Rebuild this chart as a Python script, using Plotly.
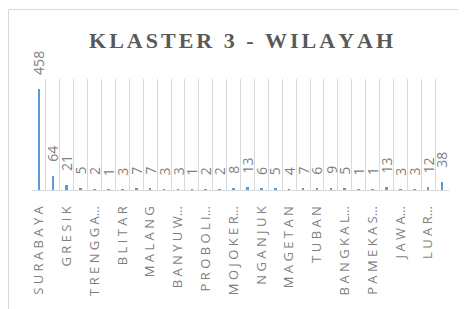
import plotly.graph_objects as go

title_text = "KLASTER 3 - WILAYAH"
values = [458, 64, 21, 5, 2, 1, 3, 7, 7, 3, 3, 1, 2, 2, 8,
          13, 6, 5, 4, 7, 6, 9, 5, 1, 1, 13, 3, 3, 12, 38]
tick_labels = ["SURABAYA", "GRESIK", "TRENGGA...", "BLITAR", "MALANG",
               "BANYUW...", "PROBOLI...", "MOJOKER...", "NGANJUK", "MAGETAN",
               "TUBAN", "BANGKAL...", "PAMEKAS...", "JAWA...", "LUAR..."]
tick_positions = list(range(0, len(values), 2))
positions = list(range(len(values)))


def spaced(label):
    trunc = label.endswith("...")
    core = label[:-3] if trunc else label
    return " ".join(core) + ("…" if trunc else "")


def spaced_title(t):
    gap = '<span style="font-size:18px">\u2006</span>'
    return gap.join(t)


fig = go.Figure()
fig.add_trace(go.Bar(
    x=positions, y=values, width=0.19,
    marker=dict(color="#5b9bd5", line=dict(width=0)),
    hoverinfo="skip",
))

for x, v in zip(positions, values):
    fig.add_annotation(
        x=x, y=v, text=str(v), textangle=-90, showarrow=False,
        xanchor="center", yanchor="bottom", yshift=12,
        font=dict(family="Open Sans", size=14, color="#7f7f7f"),
    )

# figure sits at (8, 8) in the page because of the body margin
W, H = 458, 301
L, R, T, B = 24, 17, 71, 119
pw, ph = W - L - R, H - T - B


def px_x(p):
    return (p - L) / pw


def px_y(p):
    return (H - B - p) / ph


fig.add_shape(type="rect", xref="paper", yref="paper",
              x0=px_x(0.5), x1=px_x(480), y0=px_y(1.5), y1=px_y(330),
              line=dict(color="#d9d9d9", width=1), fillcolor="rgba(0,0,0,0)",
              layer="below")

fig.add_annotation(
    xref="paper", yref="paper", x=0.5, y=px_y(32), showarrow=False,
    text="<b>" + spaced_title(title_text) + "</b>",
    xanchor="center", yanchor="middle",
    font=dict(family="Liberation Serif", size=22, color="#595959"),
)

fig.update_layout(
    width=W, height=H,
    margin=dict(l=L, r=R, t=T, b=B, autoexpand=False),
    paper_bgcolor="white", plot_bgcolor="white",
    showlegend=False, bargap=0,
)
fig.update_xaxes(
    range=[-0.5, len(values) - 0.5], automargin=False,
    tickmode="array", tickvals=tick_positions,
    ticktext=[spaced(t) for t in tick_labels],
    tickangle=-90, ticklabelstandoff=10,
    tickfont=dict(family="Open Sans", size=13, color="#7f7f7f"),
    showgrid=False, ticks="",
    showline=True, linecolor="#d9d9d9", linewidth=1,
    minor=dict(tickmode="linear", tick0=-0.5, dtick=1, showgrid=True,
               gridcolor="#d9d9d9", gridwidth=1, ticks=""),
    fixedrange=True,
)
fig.update_yaxes(
    range=[0, 503], visible=False, showgrid=False, zeroline=False,
    automargin=False,
)

fig.write_html("out.html")
